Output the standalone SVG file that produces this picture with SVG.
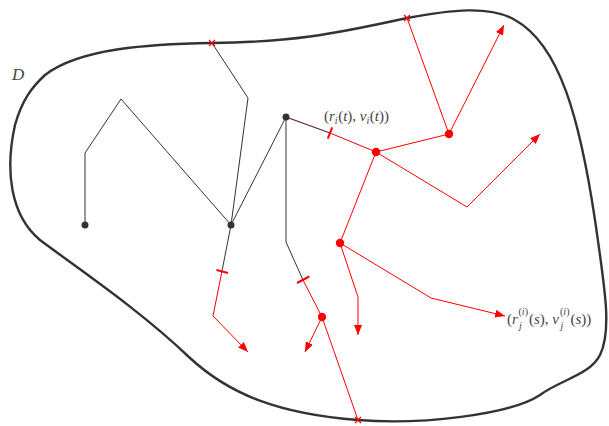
<svg xmlns="http://www.w3.org/2000/svg" width="609" height="426" viewBox="0 0 609 426">
<defs>
<marker id="ah" viewBox="0 0 10 8" refX="10" refY="4" markerWidth="10" markerHeight="8" markerUnits="userSpaceOnUse" orient="auto">
<path d="M0,0 L10,4 L0,8 Z" fill="#ff0000"/>
</marker>
<style>
.bd{fill:none;stroke:#333;stroke-width:2.4}
.bl{fill:none;stroke:#333;stroke-width:1}
.rl{fill:none;stroke:#ff0000;stroke-width:1}
.ra{fill:none;stroke:#ff0000;stroke-width:1;marker-end:url(#ah)}
.tk{stroke:#ff0000;stroke-width:2}
.xm{stroke:#ff0000;stroke-width:1.2}
.bdot{fill:#333}
.rdot{fill:#ff0000}
.lb{font-family:"Liberation Serif",serif;fill:#444;font-size:15px}
.sm{font-family:"Liberation Serif",serif;fill:#444;font-size:10px}
.it{font-style:italic}
</style>
</defs>
<g id="boundary">
<path class="bd" d="M45,75 C80,48 150,44 212,43 C290,42 330,35 407,18 C450,10 490,5 515,20 C560,45 580,120 595,220 C605,290 612,330 600,355 C590,375 560,380 540,395 C510,415 420,425 358,420 C280,414 230,395 190,358 C140,310 80,270 40,240 C10,215 5,170 15,125 C22,100 32,87 45,75 Z"/>
<text class="lb it" x="12" y="80" style="font-size:17px">D</text>
</g>
<g id="connectors">
<polyline class="bl" points="85,225 85,153 121,99 231,225"/>
<polyline class="bl" points="231,225 248,98 212,43"/>
<line class="bl" x1="231" y1="225" x2="286" y2="117"/>
<polyline class="bl" points="286,117 286,242 303,280"/>
<line class="bl" x1="231" y1="225" x2="222" y2="271"/>
<line x1="286" y1="117" x2="330" y2="133" stroke="#552222" stroke-width="1.2"/>
<line class="rl" x1="330" y1="133" x2="376" y2="152"/>
<polyline class="ra" points="222,271 213,316 248,352"/>
<line class="rl" x1="303" y1="280" x2="322" y2="317"/>
<line class="ra" x1="322" y1="317" x2="305" y2="352"/>
<line class="rl" x1="322" y1="317" x2="358" y2="420"/>
<polyline class="rl" points="376,152 449,134 407,18"/>
<line class="ra" x1="449" y1="134" x2="504" y2="25"/>
<polyline class="ra" points="376,152 467,207 540,134"/>
<line class="rl" x1="376" y1="152" x2="340" y2="243"/>
<polyline class="ra" points="340,243 358,297 358,335"/>
<polyline class="ra" points="340,243 431,298 505,316"/>
<line class="tk" x1="332.2" y1="127.4" x2="327.8" y2="138.6"/>
<line class="tk" x1="216.5" y1="270" x2="228" y2="273"/>
<line class="tk" x1="309.3" y1="276.5" x2="297" y2="283"/>
<path class="xm" d="M209,40 L215,46 M215,40 L209,46" stroke="#333"/>
<path class="xm" d="M404,15 L410,21 M410,15 L404,21"/>
<path class="xm" d="M355,417 L361,423 M361,417 L355,423"/>
</g>
<g id="node-a"><circle class="bdot" cx="85" cy="225" r="3.5"/></g>
<g id="node-b"><circle class="bdot" cx="231" cy="225" r="3.5"/></g>
<g id="node-c"><circle class="bdot" cx="286" cy="117" r="3.5"/></g>
<g id="node-d"><circle class="rdot" cx="376" cy="152" r="4.2"/></g>
<g id="node-e"><circle class="rdot" cx="449" cy="134" r="4.2"/></g>
<g id="node-f"><circle class="rdot" cx="340" cy="243" r="4.2"/></g>
<g id="node-g"><circle class="rdot" cx="322" cy="317" r="4.2"/></g>
<g id="labels">
<text class="lb" x="324" y="121">(<tspan class="it">r</tspan><tspan class="it" font-size="10" dy="2.5">i</tspan><tspan dx="0.5" dy="-2.5">(</tspan><tspan class="it">t</tspan>), <tspan class="it">v</tspan><tspan class="it" font-size="10" dy="2.5">i</tspan><tspan dx="0.5" dy="-2.5">(</tspan><tspan class="it">t</tspan>))</text>
<text class="lb" x="507" y="324">(<tspan class="it">r</tspan></text>
<text class="sm" x="518.5" y="315">(<tspan class="it">i</tspan>)</text>
<text class="sm it" x="519" y="329">j</text>
<text class="lb" x="529" y="324">(<tspan class="it">s</tspan>), <tspan class="it">v</tspan></text>
<text class="sm" x="560" y="315">(<tspan class="it">i</tspan>)</text>
<text class="sm it" x="560.5" y="329">j</text>
<text class="lb" x="570.5" y="324">(<tspan class="it">s</tspan>))</text>
</g>
</svg>
